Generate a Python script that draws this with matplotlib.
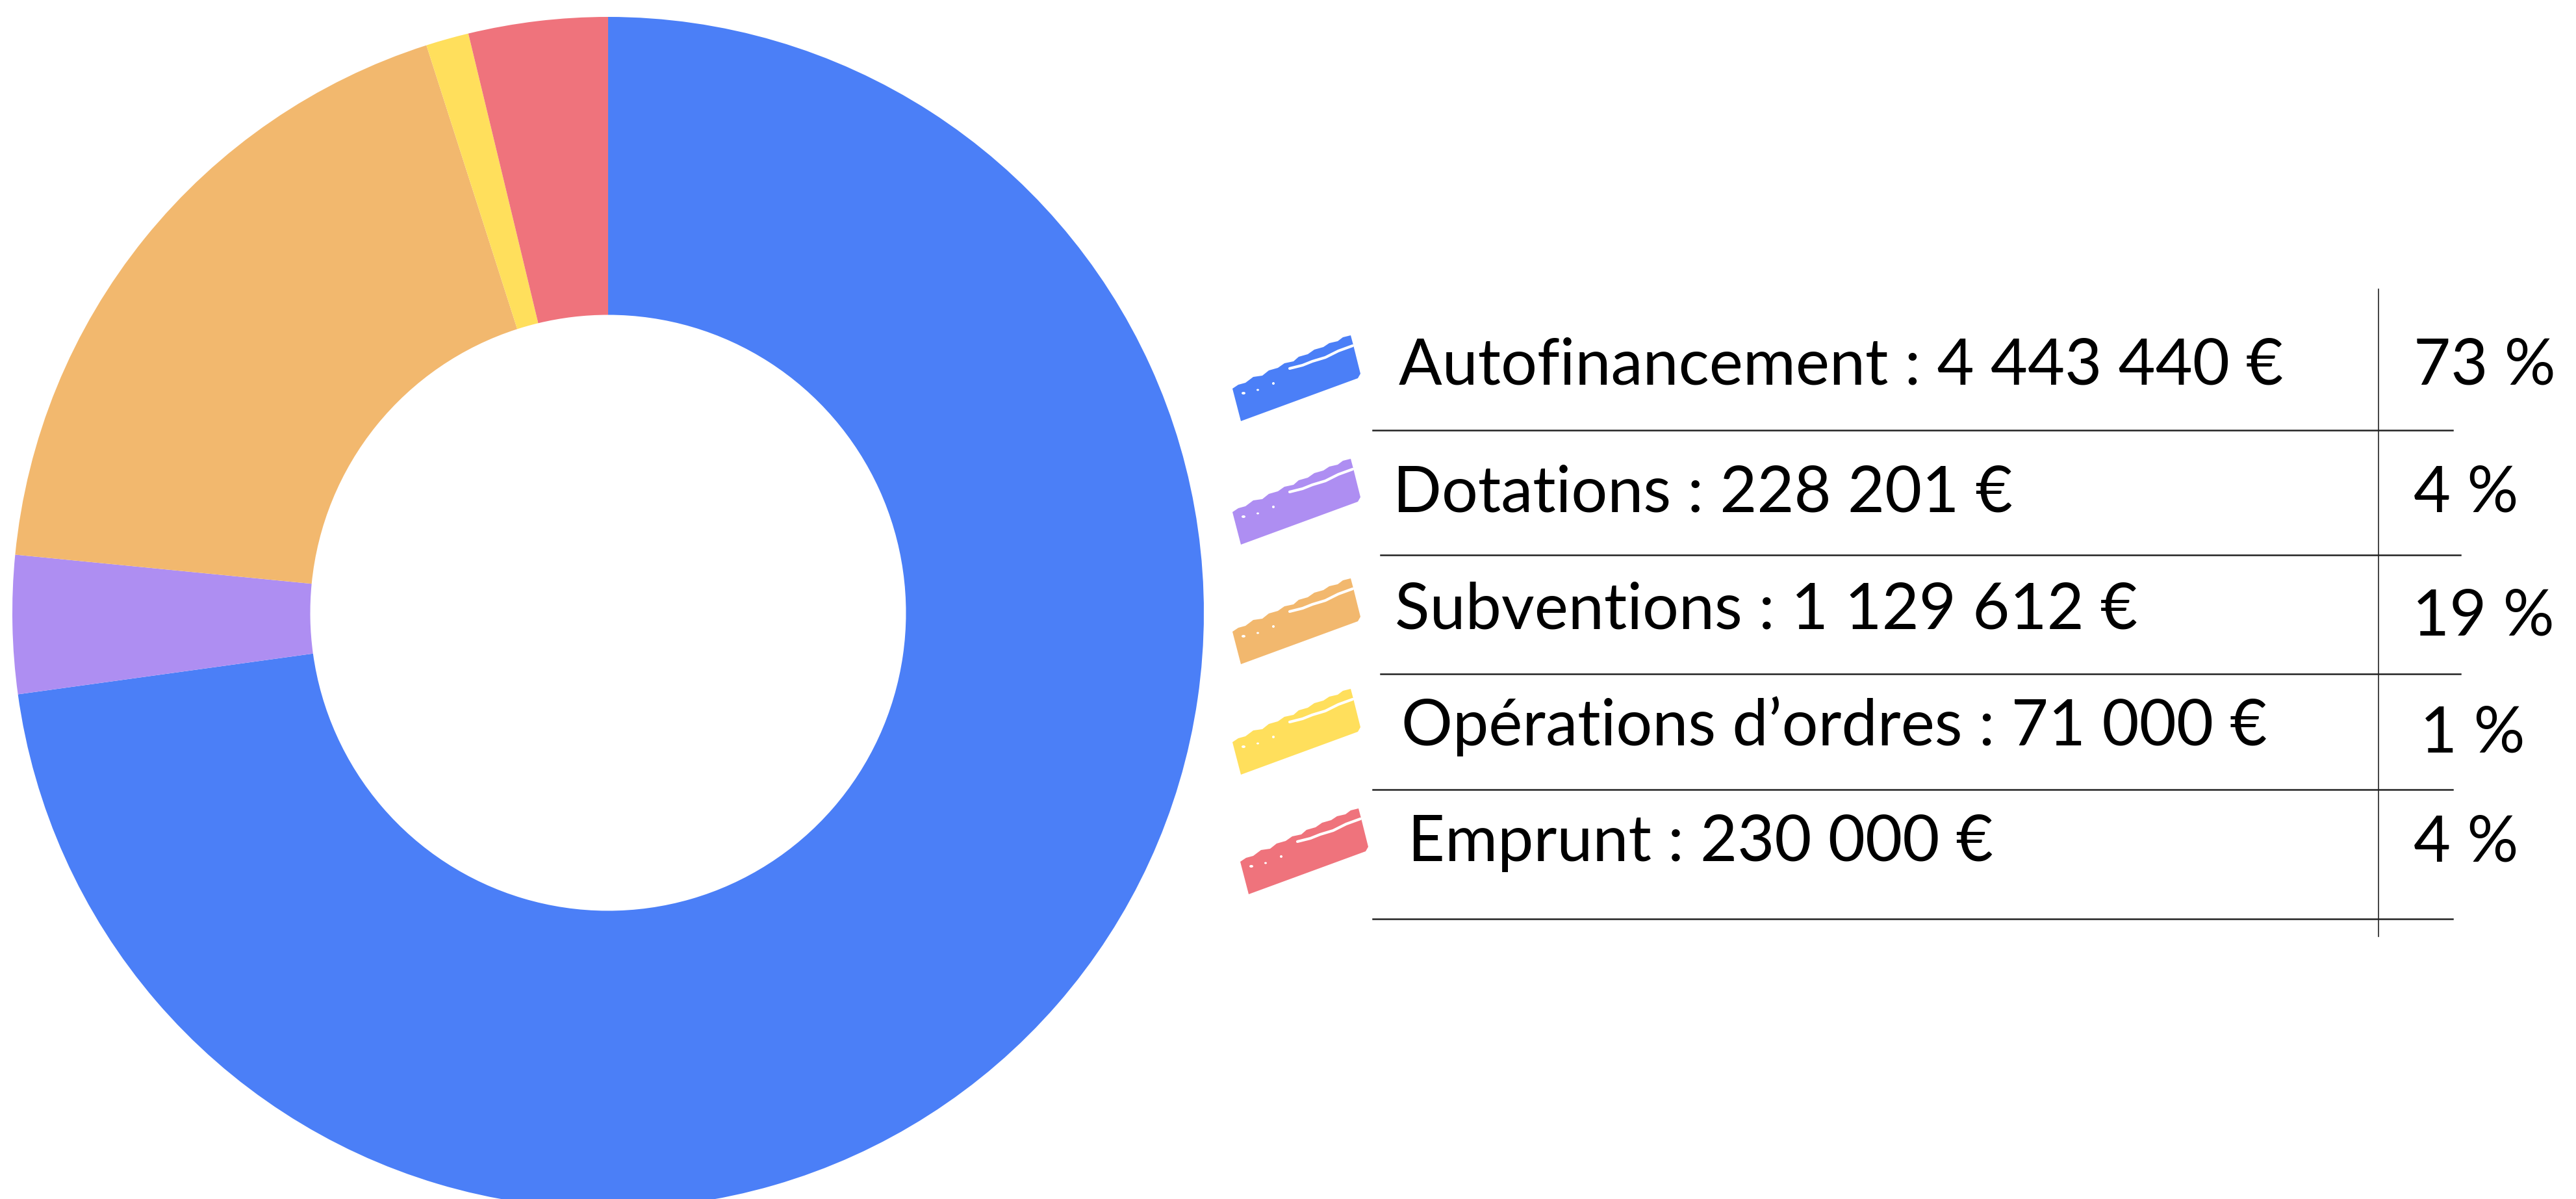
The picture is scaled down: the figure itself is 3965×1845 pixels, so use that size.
import matplotlib
matplotlib.use("Agg")
import matplotlib.pyplot as plt
from matplotlib.patches import Polygon, Ellipse

# Data
categories = ["Autofinancement", "Dotations", "Subventions", "Opérations d’ordres", "Emprunt"]
amounts = [4443440, 228201, 1129612, 71000, 230000]
colors = ["#4B7FF7", "#AE8EF2", "#F2B86E", "#FFDF5C", "#EF737C"]

W, H = 3965, 1845
total = sum(amounts)
percents = [round(v / total * 100) for v in amounts]

plt.rcParams['font.family'] = ['Lato', 'DejaVu Sans']

fig = plt.figure(figsize=(W / 100, H / 100), dpi=100)

# Donut (pixel box: centre 936,943 ; radius 917)
cx, cy, r = 936, 943, 917
ax = fig.add_axes([(cx - r) / W, (H - cy - r) / H, 2 * r / W, 2 * r / H])
ax.pie(amounts, colors=colors, startangle=90, counterclock=False,
       radius=1, wedgeprops=dict(width=0.5, linewidth=0))
ax.set_xlim(-1, 1)
ax.set_ylim(-1, 1)
ax.axis('off')

# Legend / table overlay in pixel coordinates
lx = fig.add_axes([0, 0, 1, 1])
lx.set_xlim(0, W)
lx.set_ylim(H, 0)
lx.axis('off')

text_x = [2153, 2144, 2147, 2157, 2167]
baselines = [592, 788, 968, 1147, 1325]
pct_x = [3715, 3715, 3713, 3725, 3715]
pct_base = [592, 788, 978, 1157, 1325]
swatch_dx = [0, 0, 0, 0, 12]
swatch_dy = [0, 190, 374, 544, 728]

# brush stroke outline (ragged top edge), pixel coords of the first swatch
brush = [(1910, 648), (1897, 598), (1906, 592), (1917, 589), (1929, 580), (1943, 578),
         (1953, 570), (1967, 566), (1977, 559), (1991, 556), (1999, 549), (2013, 545),
         (2023, 538), (2037, 534), (2046, 528), (2059, 525), (2067, 519), (2079, 516),
         (2083, 531), (2094, 575), (2090, 582), (2000, 615)]
streak = [(1985, 567), (2005, 562), (2020, 556), (2040, 550), (2060, 540), (2082, 532)]
specks = [(1914, 605, 6, 4), (1936, 600, 4, 3), (1960, 590, 4, 4)]

fs = 71
for i, (name, v, p) in enumerate(zip(categories, amounts, percents)):
    label = f"{name} : {v:,} €".replace(",", " ")
    lx.text(text_x[i], baselines[i], label, fontsize=fs,
            va='baseline', ha='left', color='black')
    lx.text(pct_x[i], pct_base[i], f"{p} %", fontsize=fs,
            va='baseline', ha='left', color='black')

    dx, dy = swatch_dx[i], swatch_dy[i]
    lx.add_patch(Polygon([(x + dx, y + dy) for x, y in brush], closed=True,
                         facecolor=colors[i], edgecolor='none'))
    lx.plot([x + dx for x, _ in streak], [y + dy for _, y in streak],
            color='white', lw=3, solid_capstyle='round')
    for sx, sy, w, h in specks:
        lx.add_patch(Ellipse((sx + dx, sy + dy), w, h, facecolor='white', edgecolor='none'))

# table rules
rules_y = [662, 854, 1037, 1215, 1414]
rules_x0 = [2113, 2125, 2125, 2113, 2113]
rules_x1 = [3775, 3787, 3787, 3775, 3775]
for y, x0, x1 in zip(rules_y, rules_x0, rules_x1):
    lx.plot([x0, x1], [y, y], color='#222222', lw=1.8)
lx.plot([3661, 3661], [445, 1441], color='#222222', lw=1.2)

fig.savefig("out.png", dpi=100, facecolor='white')
